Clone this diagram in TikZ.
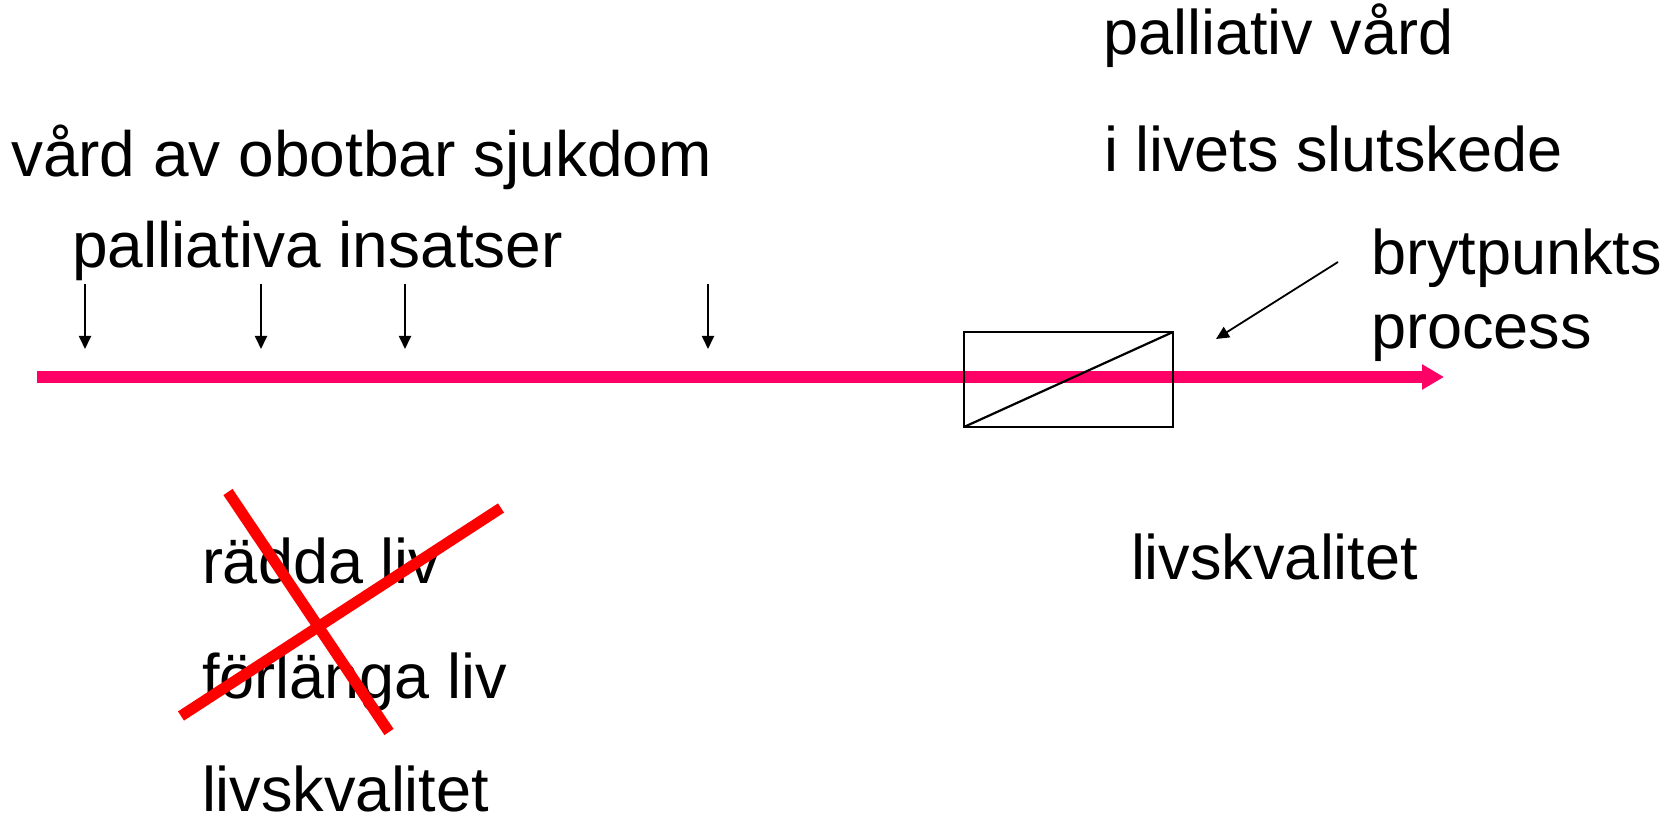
\documentclass[tikz,border=0pt]{standalone}
\usepackage{fontspec}
\setmainfont{Liberation Sans}
\usetikzlibrary{arrows.meta}
\definecolor{timeline}{HTML}{FF0066}
\definecolor{crossred}{HTML}{FF0000}

\begin{document}
\begin{tikzpicture}[x=0.5pt, y=-0.5pt, inner sep=0, outer sep=0,
  label txt/.style={anchor=base west, font=\fontsize{31.5}{38}\selectfont},
  wide txt/.style={label txt, font=\fontsize{32}{38}\selectfont},
  pointer/.style={-{Triangle[length=6.5pt, width=6pt]}, line width=0.9pt},
  cross line/.style={draw=crossred, line width=5.5pt}]
  \useasboundingbox (0,0) rectangle (1678,818);

  % texts above the line
  \node[label txt] (pallvard) at (1103, 55) {palliativ vård};
  \node[label txt] (slutskede) at (1104, 172) {i livets slutskede};
  \node[wide txt] (obotbar) at (11, 177) {vård av obotbar sjukdom};
  \node[wide txt] (insatser) at (72, 268) {palliativa insatser};
  \node[label txt] (brytp) at (1371, 275) {brytpunkts};
  \node[label txt] (process) at (1371, 349) {process};

  % texts below the line
  \node[label txt] (livskval2) at (1131, 580) {livskvalitet};
  \node[label txt] (radda) at (202, 583) {rädda liv};
  \node[label txt] (forlanga) at (202, 698) {förlänga liv};
  \node[label txt] (livskval1) at (202, 811) {livskvalitet};

  % time line
  \coordinate (start) at (37, 377);
  \coordinate (end) at (1444, 377);
  \draw[draw=timeline, line width=6pt, -{Triangle[length=11pt, width=12pt]}] (start) -- (end);

  % insats arrows
  \foreach \name/\xpos in {ins1/85, ins2/261, ins3/405, ins4/708} {
    \coordinate (\name top) at (\xpos, 284);
    \coordinate (\name bot) at (\xpos, 349);
    \draw[pointer] (\name top) -- (\name bot);
  }

  % brytpunkt box
  \node[draw, line width=1.1pt, minimum width=104.5pt, minimum height=47.5pt] (brytbox) at (1068.5, 379.5) {};
  \draw[line width=1.1pt] (brytbox.south west) -- (brytbox.north east);
  \coordinate (brytfrom) at (1338, 262);
  \coordinate (brytto) at (1216, 339);
  \draw[pointer] (brytfrom) -- (brytto);

  % red cross
  \coordinate (crossA1) at (228, 492);
  \coordinate (crossA2) at (389, 732);
  \coordinate (crossB1) at (501, 508);
  \coordinate (crossB2) at (181, 716);
  \draw[cross line] (crossA1) -- (crossA2);
  \draw[cross line] (crossB1) -- (crossB2);
\end{tikzpicture}
\end{document}
